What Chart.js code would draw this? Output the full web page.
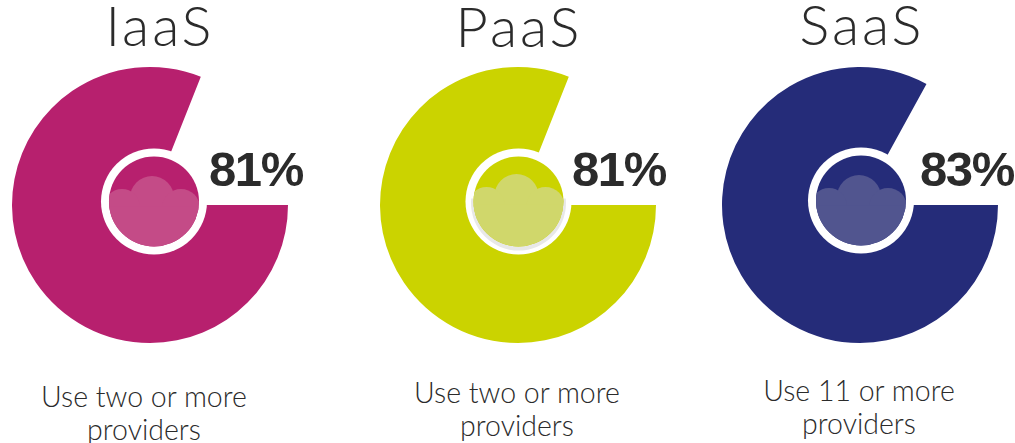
<!DOCTYPE html>
<html>
<head>
<meta charset="utf-8">
<script src="https://cdn.jsdelivr.net/npm/chart.js@4/dist/chart.umd.min.js"></script>
<style>
html,body{margin:0;padding:0;background:#fff;overflow:hidden;}
#wrap{position:relative;width:1015px;height:443px;overflow:hidden;}
canvas{position:absolute;top:0;}
.t{position:absolute;color:#2b2b2b;text-align:center;white-space:nowrap;transform:translateX(-50%);}
.title{font:300 56px Lato,sans-serif;letter-spacing:3px;}
.pct{font:bold 49px "Liberation Sans",Arial,sans-serif;letter-spacing:-1.3px;}
.note{font:300 28.5px/33px Lato,sans-serif;}
</style>
</head>
<body>
<div id="wrap"></div>
<script>
const titles = ["IaaS","PaaS","SaaS"];
const usedShare = [81,81,83];
const restShare = [19,19,17];
const colors = ["#b7206e","#cbd300","#252c79"];
const cloudColors = ["#c44b87","#d0d76b","#51558f"];
const notes = [["Use two or more","providers"],["Use two or more","providers"],["Use 11 or more","providers"]];

// where each panel sits on the page
const pieX = [150,518,860];
const ringX = [154,518.5,861];
const ringY = [201.5,201.5,200.5];
const titleX = [160,519,862];
const titleY = [-9,-8,-10];
const pctX = [256,619,967];
const noteX = [144,517,859];
const noteY = [380,376,374];

const pieTop = 55;

// white ring with the small cloud inside, drawn over the middle of the pie
const cloudBadge = {
    id: "cloudBadge",
    afterDraw(chart, args, opts) {
        const ctx = chart.ctx;
        const x = opts.x, y = opts.y;
        ctx.save();
        ctx.beginPath();
        ctx.arc(x,y,53,0,Math.PI*2);
        ctx.fillStyle = "#fff";
        ctx.fill();
        if (opts.shadow) {
            // grey lip under the lower half of the disc
            ctx.save();
            ctx.beginPath();
            ctx.rect(x-60,y-3,120,70);
            ctx.clip();
            ctx.beginPath();
            ctx.arc(x,y+1.5,47.5,0,Math.PI*2);
            ctx.fillStyle = "#e8e8e8";
            ctx.fill();
            ctx.restore();
        }
        ctx.beginPath();
        ctx.arc(x,y,45,0,Math.PI*2);
        ctx.fillStyle = opts.color;
        ctx.fill();
        ctx.clip();
        // cloud: three bumps with a flat fill underneath
        const top = y+opts.lift;
        ctx.fillStyle = opts.cloud;
        ctx.beginPath();
        ctx.arc(x-2,top-3.5,22,0,Math.PI*2);
        ctx.fill();
        ctx.beginPath();
        ctx.arc(x-32,top+5.5,18,0,Math.PI*2);
        ctx.fill();
        ctx.beginPath();
        ctx.arc(x+27,top+6.5,19,0,Math.PI*2);
        ctx.fill();
        ctx.fillRect(x-50,top+5,100,50);
        ctx.restore();
    }
};

const wrap = document.getElementById("wrap");

titles.forEach((title,i) => {
    const canvas = document.createElement("canvas");
    canvas.style.left = (pieX[i]-150)+"px";
    canvas.style.top = pieTop+"px";
    canvas.width = 300;
    canvas.height = 300;
    canvas.style.width = "300px";
    canvas.style.height = "300px";
    wrap.appendChild(canvas);

    new Chart(canvas.getContext("2d"),{
        type: "pie",
        data: {
            labels: ["Used","Other"],
            datasets: [{
                data: [usedShare[i],restShare[i]],
                backgroundColor: [colors[i],"rgba(0,0,0,0)"],
                borderWidth: 0
            }]
        },
        options: {
            responsive: false,
            animation: false,
            rotation: 90,
            radius: 138,
            layout: {padding: 0},
            plugins: {
                legend: {display:false},
                tooltip: {enabled:false},
                cloudBadge: {
                    x: 150+ringX[i]-pieX[i],
                    y: ringY[i]-pieTop,
                    lift: i==1 ? -2 : 0,
                    color: colors[i],
                    cloud: cloudColors[i],
                    shadow: i==1
                }
            }
        },
        plugins: [cloudBadge]
    });

    const addText = (cls,text,x,y) => {
        const d = document.createElement("div");
        d.className = "t "+cls;
        d.style.left = x+"px";
        d.style.top = y+"px";
        d.innerHTML = text;
        wrap.appendChild(d);
    };
    addText("title",title,titleX[i],titleY[i]);
    addText("pct",usedShare[i]+"%",pctX[i],141);
    addText("note",notes[i].join("<br>"),noteX[i],noteY[i]);
});
</script>
</body>
</html>
